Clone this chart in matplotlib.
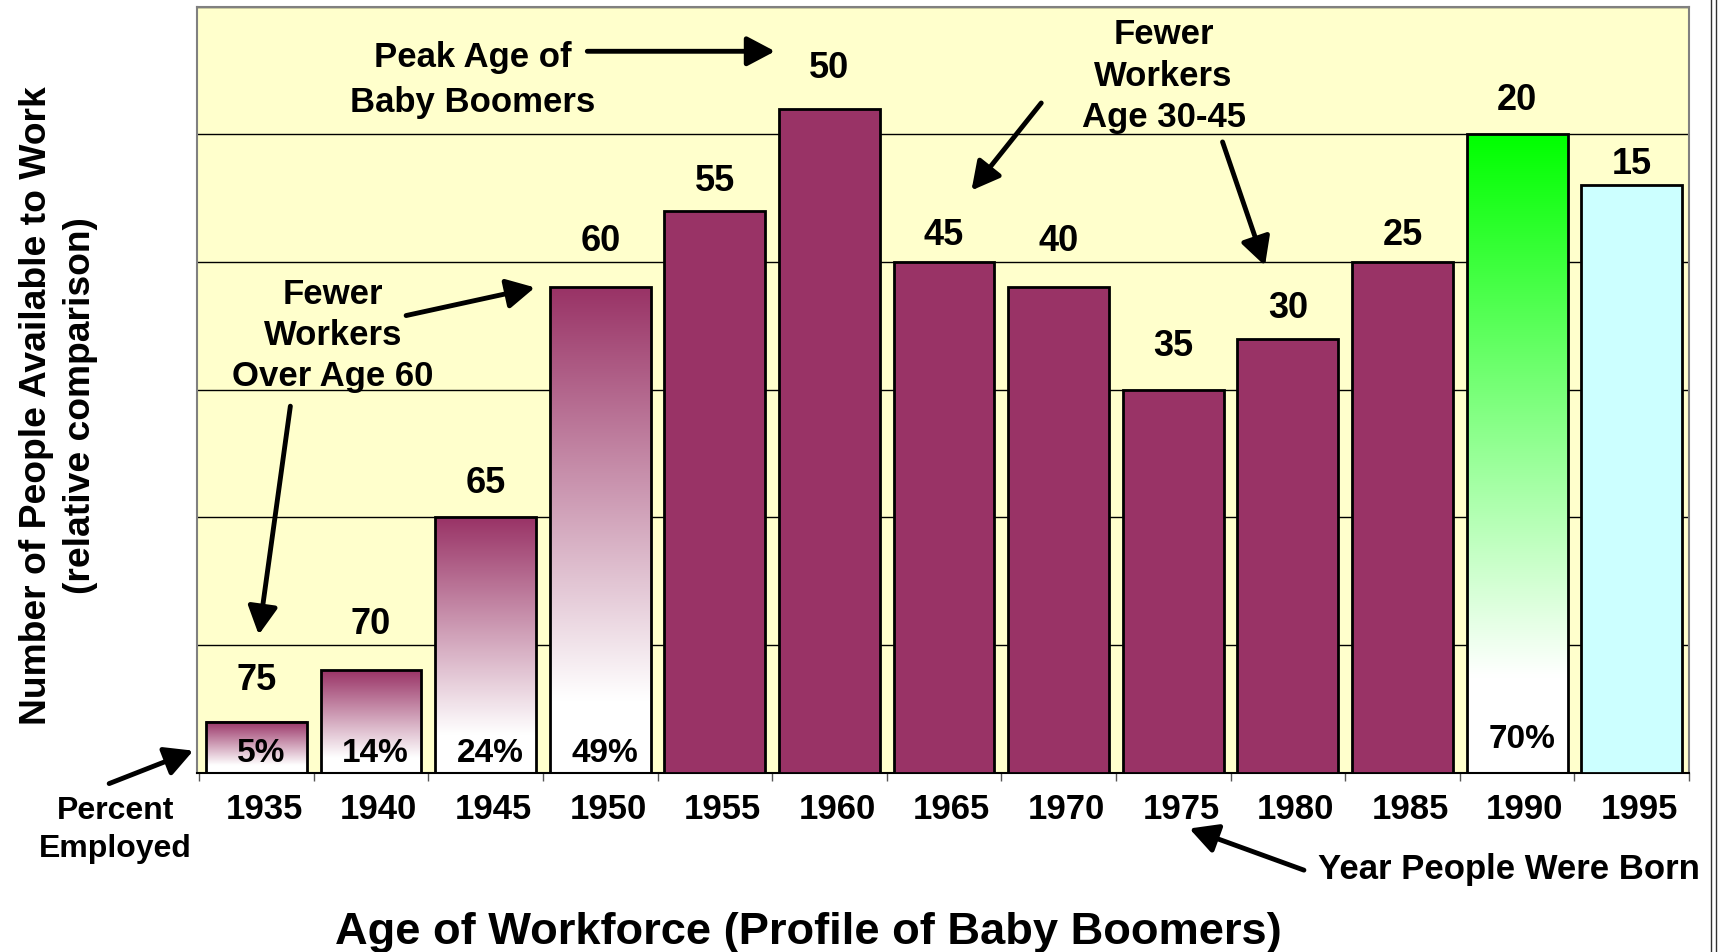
import numpy as np
import matplotlib.pyplot as plt
import matplotlib.transforms as mtrans
from matplotlib.colors import to_rgb
from matplotlib.lines import Line2D

# Dados
anos = ["1935", "1940", "1945", "1950", "1955", "1960", "1965",
        "1970", "1975", "1980", "1985", "1990", "1995"]
trabalhadores = [4, 8, 20, 38, 44, 52, 40, 38, 30, 34, 40, 50, 46]
idades = ["75", "70", "65", "60", "55", "50", "45", "40", "35", "30", "25", "20", "15"]
pct_empregado = ["5%", "14%", "24%", "49%", "", "", "", "", "", "", "", "70%", ""]

# Estilo de cada barra
MARROM = "#993366"
preenchimento = [("grad", MARROM)] * 4 + [("solid", MARROM)] * 7 + \
                [("grad", "#00FF00"), ("solid", "#CCFFFF")]
dist_rotulo = [30, 34, 25, 34, 22, 30, 20, 34, 32, 22, 20, 25, 16]   # pt acima da barra
y_pct = [1.55, 1.55, 1.55, 1.55, 0, 0, 0, 0, 0, 0, 0, 2.65, 0]

plt.rcParams["font.family"] = ["Liberation Sans", "DejaVu Sans"]
plt.rcParams["font.weight"] = "bold"
plt.rcParams["axes.labelweight"] = "bold"

fig = plt.figure(figsize=(17.18, 9.53), dpi=100)
ax = fig.add_axes([196.5 / 1718, 1 - 773.6 / 953, 1492.5 / 1718, 766 / 953])
ax.set_facecolor("#FFFFCC")

largura = 0.88
x = np.arange(len(anos))


def degrade(ax, xc, h, cor, w):
    topo = np.array(to_rgb(cor))
    t = np.linspace(0, 1, 300)[:, None, None]
    f = np.clip(t / 0.85, 0, 1)
    img = topo * (1 - f) + f
    ax.imshow(img, extent=(xc - w / 2, xc + w / 2, 0, h), origin="upper",
              aspect="auto", zorder=2, interpolation="bilinear")


cores = []
for i, (tipo, cor) in enumerate(preenchimento):
    if tipo == "grad":
        degrade(ax, x[i], trabalhadores[i], cor, largura)
        cores.append("none")
    else:
        cores.append(cor)

ax.bar(x, trabalhadores, width=largura, color=cores, edgecolor="black",
       linewidth=2, zorder=3)

# Rótulos de idade acima das barras
for i, (v, txt) in enumerate(zip(trabalhadores, idades)):
    ax.annotate(txt, (x[i], v), xytext=(0, dist_rotulo[i]), textcoords="offset points",
                ha="center", va="center", fontsize=26, zorder=6)

# Percentual empregado dentro das barras
for i, txt in enumerate(pct_empregado):
    if txt:
        ax.text(x[i] + 0.04, y_pct[i], txt, ha="center", va="center",
                fontsize=24, zorder=6)

ax.set_xlim(-0.523, 12.45)
ax.set_ylim(0, 60)

# Grade e eixos
ax.set_yticks(range(0, 61, 10))
ax.yaxis.grid(True, color="black", linewidth=1)
ax.set_axisbelow(True)
ax.tick_params(axis="y", length=0, labelleft=False)
ax.set_xticks(x, anos)
ax.set_xticks(np.arange(-0.5, 13, 1), minor=True)
ax.tick_params(axis="x", which="major", length=0, pad=14, labelsize=25)
ax.tick_params(axis="x", which="minor", length=6, color="#555555", width=1)
for lbl in ax.get_xticklabels():
    lbl.set_transform(lbl.get_transform() + mtrans.ScaledTranslation(5.5 / 72, 0, fig.dpi_scale_trans))

for lado in ["top", "left", "right"]:
    ax.spines[lado].set_color("#808080")
    ax.spines[lado].set_linewidth(1.5)
ax.spines["bottom"].set_color("black")
ax.spines["bottom"].set_linewidth(1.5)

ax.set_ylabel("Number of People Available to Work\n(relative comparison)", fontsize=26.8,
              fontweight="bold", linespacing=1.34)
ax.yaxis.set_label_coords(-0.0924, 0.481)
ax.yaxis.label.set_va("center")

fig.text(808 / 1718, 1 - 944.5 / 953, "Age of Workforce (Profile of Baby Boomers)",
         ha="center", va="baseline", fontsize=32.6)

# Anotações com setas
seta = dict(arrowstyle="-|>,head_length=0.85,head_width=0.45", color="black", lw=3.5,
            mutation_scale=20, shrinkA=0, shrinkB=0, capstyle="round")


def seta_de(a, b):
    ax.annotate("", xy=b, xytext=a, arrowprops=seta, annotation_clip=False, zorder=7)


ax.text(1.887, 54.33, "Peak Age of\nBaby Boomers", ha="center", va="center",
        fontsize=25, linespacing=1.47, zorder=6)
seta_de((2.887, 56.5), (4.525, 56.5))

ax.text(0.668, 34.33, "Fewer\nWorkers\nOver Age 60", ha="center", va="center",
        fontsize=25, linespacing=1.32, zorder=6)
seta_de((1.306, 35.8), (2.43, 38.0))
seta_de((0.296, 28.7), (0.02, 10.8))

ax.text(7.915, 54.63, "Fewer\nWorkers\nAge 30-45", ha="center", va="center",
        fontsize=25, linespacing=1.32, zorder=6)
seta_de((6.848, 52.45), (6.239, 45.6))
seta_de((8.43, 49.4), (8.80, 39.7))

ax.text(-1.228, -4.42, "Percent\nEmployed", ha="center", va="center",
        fontsize=23, linespacing=1.38, clip_on=False)
seta_de((-1.285, -0.86), (-0.551, 1.72))

ax.text(9.26, -7.5, "Year People Were Born", ha="left", va="center",
        fontsize=25, clip_on=False)
seta_de((9.14, -7.64), (8.14, -4.38))

# Borda dupla à direita da figura
for xf in (1711 / 1718, 1716 / 1718):
    fig.add_artist(Line2D([xf, xf], [0, 1], transform=fig.transFigure,
                          color="#333333", linewidth=1))

fig.savefig("out.png", dpi=100)
